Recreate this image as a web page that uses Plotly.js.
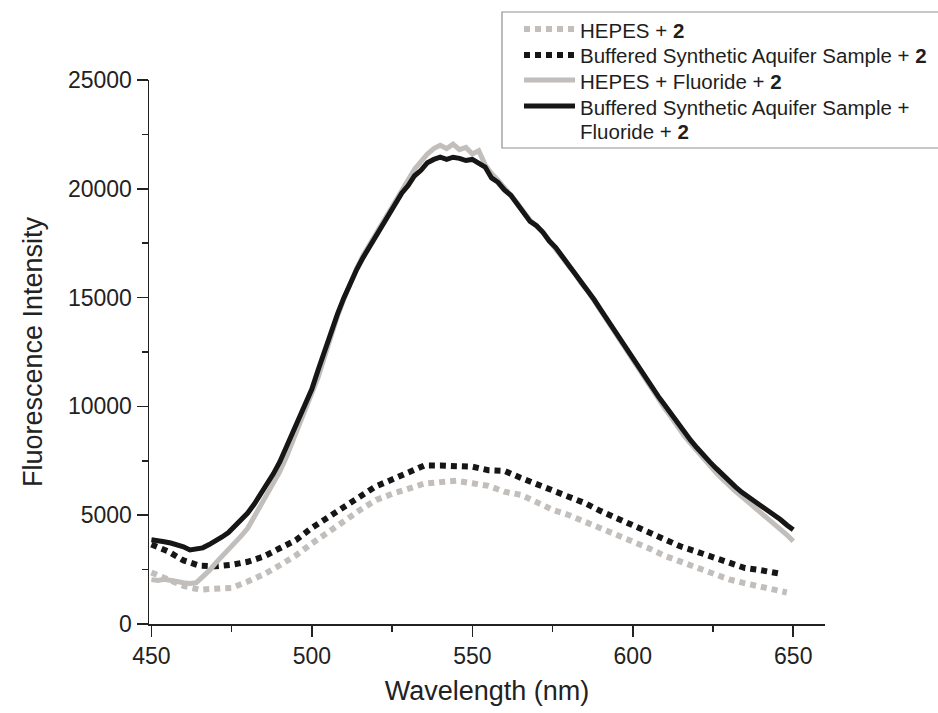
<!DOCTYPE html>
<html>
<head>
<meta charset="utf-8">
<script src="https://cdn.plot.ly/plotly-3.0.1.min.js"></script>
<style>html,body{margin:0;padding:0;background:#fff;}#chart{width:938px;height:713px;}</style>
</head>
<body>
<div id="chart"></div>
<script>
// ---- data ----
var seriesNames = [
  'HEPES + <b>2</b>',
  'Buffered Synthetic Aquifer Sample + <b>2</b>',
  'HEPES + Fluoride + <b>2</b>',
  'Buffered Synthetic Aquifer Sample +<br>Fluoride + <b>2</b>'
];
// legend lines as shown in the reference (entry 4 wraps onto two lines)
var legendLines = [
  ['HEPES + <b>2</b>'],
  ['Buffered Synthetic Aquifer Sample + <b>2</b>'],
  ['HEPES + Fluoride + <b>2</b>'],
  ['Buffered Synthetic Aquifer Sample +', 'Fluoride + <b>2</b>']
];

var hepesX = [450,455,460,465,470,475,480,485,490,495,500,505,510,515,520,525,530,535,540,545,550,555,560,565,570,575,580,585,590,595,600,605,610,615,620,625,630,635,640,645,648];
var hepes2 = [2370,2050,1750,1580,1600,1660,1950,2280,2700,3150,3700,4250,4720,5240,5700,5980,6240,6450,6520,6580,6470,6350,6080,5940,5600,5250,5010,4710,4340,4040,3740,3480,3130,2860,2560,2290,2050,1870,1700,1560,1450];

var bufferedX = [450,455,460,465,470,475,480,485,490,495,500,505,510,515,520,525,530,535,540,545,550,555,560,565,570,575,580,585,590,595,600,605,610,615,620,625,630,635,640,645,646];
var buffered2 = [3650,3350,2920,2680,2650,2720,2860,3100,3480,3850,4420,4900,5380,5920,6330,6640,6950,7280,7280,7260,7230,7070,7040,6720,6440,6180,5830,5560,5190,4850,4540,4200,3880,3560,3320,3050,2800,2570,2470,2340,2310];

var solidX = [450,452,454,456,458,460,462,464,466,468,470,472,474,476,478,480,482,484,486,488,490,492,494,496,498,500,502,504,506,508,510,512,514,516,518,520,522,524,526,528,530,532,534,536,538,540,542,544,546,548,550,552,554,556,558,560,562,564,566,568,570,572,574,576,578,580,582,584,586,588,590,592,594,596,598,600,602,604,606,608,610,612,614,616,618,620,622,624,626,628,630,632,634,636,638,640,642,644,646,648,650];

var hepesFluoride2 = [2040,2000,2050,1980,1950,1900,1860,1900,2150,2450,2800,3100,3400,3750,4050,4400,4900,5400,5950,6450,7000,7650,8400,9100,9800,10500,11350,12300,13250,14150,14950,15700,16350,16950,17450,17950,18450,18950,19500,20000,20500,20900,21250,21600,21850,22000,21850,22050,21800,21900,21600,21750,21100,20700,20400,20050,19750,19350,18950,18550,18300,18000,17600,17250,16850,16450,16100,15650,15300,14850,14400,13950,13450,12950,12500,12100,11600,11150,10750,10300,9900,9500,9050,8650,8300,7950,7600,7300,6950,6650,6350,6100,5850,5600,5400,5150,4900,4650,4400,4100,3800];

var bufferedFluoride2 = [3870,3800,3780,3720,3650,3550,3400,3450,3500,3650,3800,4000,4200,4500,4780,5100,5500,5950,6400,6900,7450,8100,8750,9400,10100,10800,11700,12600,13450,14250,15000,15700,16300,16850,17350,17850,18350,18850,19300,19800,20150,20600,20850,21200,21350,21450,21350,21450,21400,21300,21350,21200,21000,20500,20300,19950,19700,19300,18900,18500,18300,18000,17600,17300,16900,16500,16150,15700,15350,14900,14450,14000,13550,13050,12600,12200,11750,11300,10900,10450,10050,9650,9200,8800,8450,8100,7750,7450,7150,6850,6550,6300,6050,5850,5650,5450,5200,5000,4800,4550,4330];

var xTickVals = [450,500,550,600,650];
var yTickVals = [0,5000,10000,15000,20000,25000];

// ---- styling ----
var GREY = '#c2bebb';
var BLACK = '#161616';
var FONT = 'Liberation Sans, Arial, sans-serif';
var W = 938, H = 713;
var M = {l: 149, r: 113, t: 80, b: 89};
var PW = W - M.l - M.r, PH = H - M.t - M.b;
function px2x(p) { return (p - M.l) / PW; }
function px2y(p) { return (H - M.b - p) / PH; }

var styles = [
  {color: GREY, width: 6, dash: '6px,5px'},
  {color: BLACK, width: 6, dash: '6px,5px'},
  {color: GREY, width: 5},
  {color: BLACK, width: 5}
];

var traces = [
  {x: hepesX, y: hepes2, name: seriesNames[0], mode: 'lines', line: styles[0]},
  {x: bufferedX, y: buffered2, name: seriesNames[1], mode: 'lines', line: styles[1]},
  {x: solidX, y: hepesFluoride2, name: seriesNames[2], mode: 'lines', line: styles[2]},
  {x: solidX, y: bufferedFluoride2, name: seriesNames[3], mode: 'lines', line: styles[3]}
];

// ---- legend drawn as a box with sample lines and text ----
var shapes = [{
  type: 'rect', xref: 'paper', yref: 'paper',
  x0: px2x(502), x1: px2x(945), y0: px2y(148), y1: px2y(12),
  line: {color: '#8f8f8f', width: 1.2}, fillcolor: 'rgba(255,255,255,0)', layer: 'above'
}];
var annotations = [];
var rowY = [29, 55, 80, 106];
for (var i = 0; i < legendLines.length; i++) {
  shapes.push({
    type: 'line', xref: 'paper', yref: 'paper',
    x0: px2x(524), x1: px2x(575), y0: px2y(rowY[i]), y1: px2y(rowY[i]),
    line: {color: styles[i].color, width: styles[i].width, dash: styles[i].dash}
  });
  for (var j = 0; j < legendLines[i].length; j++) {
    annotations.push({
      xref: 'paper', yref: 'paper', x: px2x(578), y: px2y(rowY[i] + 1 + j * 24.5),
      xanchor: 'left', yanchor: 'middle', showarrow: false,
      text: legendLines[i][j],
      font: {family: FONT, size: 20.5, color: '#1e1e1e'}
    });
  }
}

var axisCommon = {
  showgrid: false, zeroline: false, showline: true,
  linecolor: '#222', linewidth: 1.5,
  ticks: 'outside', ticklen: 11, tickwidth: 1.5, tickcolor: '#222',
  tickfont: {family: FONT, size: 23, color: '#222'}
};

var layout = {
  width: W, height: H,
  paper_bgcolor: '#fff', plot_bgcolor: '#fff',
  margin: M,
  font: {family: FONT, color: '#222'},
  showlegend: false,
  shapes: shapes,
  annotations: annotations,
  xaxis: Object.assign({}, axisCommon, {
    range: [449.25, 659.9],
    tickmode: 'array', tickvals: xTickVals, ticktext: xTickVals.map(String),
    minor: {dtick: 25, tick0: 450, ticks: 'outside', ticklen: 6, tickwidth: 1.5, tickcolor: '#222', showgrid: false},
    title: {text: 'Wavelength (nm)', font: {family: FONT, size: 27, color: '#222'}, standoff: 13}
  }),
  yaxis: Object.assign({}, axisCommon, {
    range: [0, 25000],
    tickmode: 'array', tickvals: yTickVals, ticktext: yTickVals.map(String),
    minor: {dtick: 2500, tick0: 0, ticks: 'outside', ticklen: 6, tickwidth: 1.5, tickcolor: '#222', showgrid: false},
    title: {text: 'Fluorescence Intensity', font: {family: FONT, size: 27, color: '#222'}, standoff: 17}
  })
};

Plotly.newPlot('chart', traces, layout, {displayModeBar: false, staticPlot: true});
</script>
</body>
</html>
